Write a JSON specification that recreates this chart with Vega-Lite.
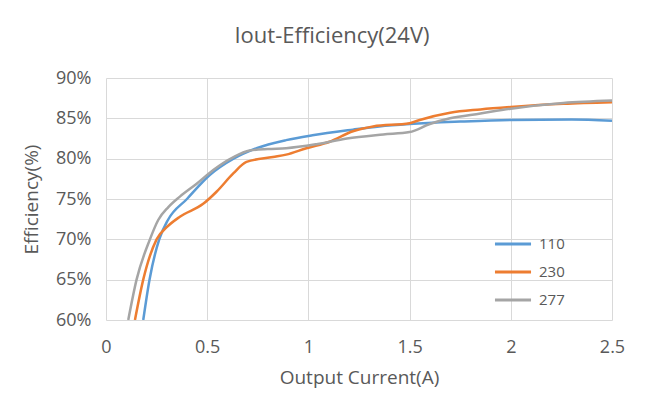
{
  "$schema": "https://vega.github.io/schema/vega-lite/v6.json",
  "width": 506,
  "height": 242,
  "autosize": {"type": "none"},
  "padding": {"left": 106, "top": 78, "right": 57, "bottom": 75},
  "background": "white",
  "title": {
    "text": "Iout-Efficiency(24V)",
    "fontSize": 22,
    "font": "Open Sans",
    "fontWeight": "normal",
    "color": "#595959",
    "anchor": "middle",
    "dx": -27,
    "offset": 21
  },
  "config": {
    "view": {"stroke": null},
    "font": "Open Sans"
  },
  "data": {
    "values": [
      {"x": 0.184, "eff": 60.0, "s": "110"},
      {"x": 0.215, "eff": 65.0, "s": "110"},
      {"x": 0.263, "eff": 70.0, "s": "110"},
      {"x": 0.306, "eff": 72.4, "s": "110"},
      {"x": 0.40, "eff": 75.0, "s": "110"},
      {"x": 0.514, "eff": 78.0, "s": "110"},
      {"x": 0.63, "eff": 80.0, "s": "110"},
      {"x": 0.744, "eff": 81.3, "s": "110"},
      {"x": 0.89, "eff": 82.3, "s": "110"},
      {"x": 1.02, "eff": 82.9, "s": "110"},
      {"x": 1.22, "eff": 83.6, "s": "110"},
      {"x": 1.35, "eff": 84.0, "s": "110"},
      {"x": 1.5, "eff": 84.3, "s": "110"},
      {"x": 1.75, "eff": 84.6, "s": "110"},
      {"x": 2.0, "eff": 84.8, "s": "110"},
      {"x": 2.3, "eff": 84.85, "s": "110"},
      {"x": 2.5, "eff": 84.7, "s": "110"},

      {"x": 0.143, "eff": 60.0, "s": "230"},
      {"x": 0.184, "eff": 65.0, "s": "230"},
      {"x": 0.25, "eff": 70.0, "s": "230"},
      {"x": 0.30, "eff": 71.5, "s": "230"},
      {"x": 0.365, "eff": 72.8, "s": "230"},
      {"x": 0.48, "eff": 74.4, "s": "230"},
      {"x": 0.546, "eff": 75.9, "s": "230"},
      {"x": 0.63, "eff": 78.2, "s": "230"},
      {"x": 0.694, "eff": 79.6, "s": "230"},
      {"x": 0.825, "eff": 80.2, "s": "230"},
      {"x": 0.89, "eff": 80.5, "s": "230"},
      {"x": 0.99, "eff": 81.3, "s": "230"},
      {"x": 1.105, "eff": 82.1, "s": "230"},
      {"x": 1.22, "eff": 83.4, "s": "230"},
      {"x": 1.32, "eff": 84.0, "s": "230"},
      {"x": 1.5, "eff": 84.4, "s": "230"},
      {"x": 1.55, "eff": 84.8, "s": "230"},
      {"x": 1.7, "eff": 85.7, "s": "230"},
      {"x": 1.85, "eff": 86.1, "s": "230"},
      {"x": 2.0, "eff": 86.4, "s": "230"},
      {"x": 2.26, "eff": 86.8, "s": "230"},
      {"x": 2.5, "eff": 87.0, "s": "230"},

      {"x": 0.11, "eff": 60.0, "s": "277"},
      {"x": 0.151, "eff": 65.0, "s": "277"},
      {"x": 0.217, "eff": 70.0, "s": "277"},
      {"x": 0.258, "eff": 72.4, "s": "277"},
      {"x": 0.308, "eff": 74.0, "s": "277"},
      {"x": 0.365, "eff": 75.3, "s": "277"},
      {"x": 0.448, "eff": 76.9, "s": "277"},
      {"x": 0.53, "eff": 78.6, "s": "277"},
      {"x": 0.63, "eff": 80.2, "s": "277"},
      {"x": 0.71, "eff": 81.0, "s": "277"},
      {"x": 0.80, "eff": 81.2, "s": "277"},
      {"x": 0.89, "eff": 81.3, "s": "277"},
      {"x": 1.04, "eff": 81.8, "s": "277"},
      {"x": 1.19, "eff": 82.5, "s": "277"},
      {"x": 1.37, "eff": 83.0, "s": "277"},
      {"x": 1.5, "eff": 83.3, "s": "277"},
      {"x": 1.6, "eff": 84.3, "s": "277"},
      {"x": 1.7, "eff": 85.0, "s": "277"},
      {"x": 1.85, "eff": 85.6, "s": "277"},
      {"x": 2.0, "eff": 86.2, "s": "277"},
      {"x": 2.26, "eff": 86.9, "s": "277"},
      {"x": 2.5, "eff": 87.2, "s": "277"}
    ]
  },
  "mark": {"type": "line", "interpolate": "monotone", "strokeWidth": 2.5, "clip": true},
  "encoding": {
    "x": {
      "field": "x",
      "type": "quantitative",
      "scale": {"domain": [0, 2.5], "nice": false},
      "axis": {
        "title": "Output Current(A)",
        "values": [0, 0.5, 1, 1.5, 2, 2.5],
        "labelExpr": "datum.value",
        "grid": true,
        "gridColor": "#d9d9d9",
        "domain": false,
        "ticks": false,
        "labelFontSize": 18,
        "labelColor": "#595959",
        "labelPadding": 18,
        "labelFlush": false,
        "titleFontSize": 19,
        "titleFontWeight": "normal",
        "titleColor": "#595959",
        "titlePadding": 12
      }
    },
    "y": {
      "field": "eff",
      "type": "quantitative",
      "scale": {"domain": [60, 90], "nice": false, "zero": false},
      "axis": {
        "title": "Efficiency(%)",
        "values": [60, 65, 70, 75, 80, 85, 90],
        "labelExpr": "datum.value + '%'",
        "grid": true,
        "gridColor": "#d9d9d9",
        "domain": false,
        "ticks": false,
        "labelFontSize": 18,
        "labelColor": "#595959",
        "labelPadding": 15,
        "titleFontSize": 19,
        "titleFontWeight": "normal",
        "titleColor": "#595959",
        "titlePadding": 14
      }
    },
    "color": {
      "field": "s",
      "type": "nominal",
      "scale": {"domain": ["110", "230", "277"], "range": ["#5B9BD5", "#ED7D31", "#A5A5A5"]},
      "legend": {
        "title": null,
        "orient": "none",
        "legendX": 387,
        "legendY": 146,
        "symbolType": "stroke",
        "symbolSize": 1300,
        "symbolStrokeWidth": 3,
        "labelFontSize": 15,
        "labelColor": "#595959",
        "labelOffset": 6,
        "rowPadding": -1
      }
    }
  }
}
